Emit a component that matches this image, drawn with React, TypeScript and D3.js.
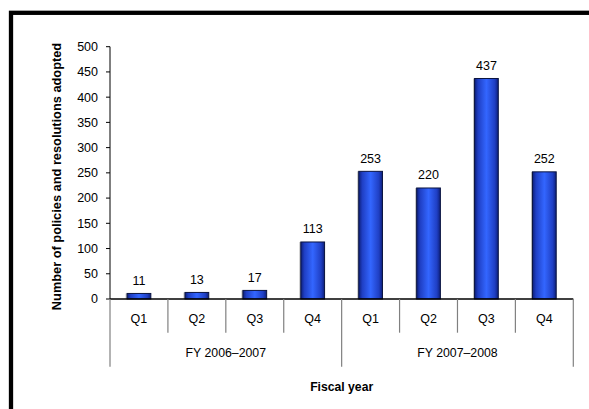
import React from "react";
import * as d3 from "d3";

const quarters = ["Q1", "Q2", "Q3", "Q4", "Q1", "Q2", "Q3", "Q4"];
const values = [11, 13, 17, 113, 253, 220, 437, 252];
const fiscalYears = ["FY 2006–2007", "FY 2007–2008"];
const yTicks = [0, 50, 100, 150, 200, 250, 300, 350, 400, 450, 500];

const W = 589;
const H = 409;
const FONT = "Arial, 'Liberation Sans', sans-serif";

export default function App() {
  const left = 110;
  const right = 573.3;
  const top = 46.7;
  const bottom = 299;

  const y = d3.scaleLinear().domain([0, 500]).range([bottom, top]);
  const x = d3
    .scaleBand<number>()
    .domain(values.map((_, i) => i))
    .range([left, right])
    .paddingInner(0)
    .paddingOuter(0);
  const bw = x.bandwidth();
  const barW = bw * 0.41;
  const groupW = bw * 4;

  return (
    <svg
      width={W}
      height={H}
      style={{ position: "absolute", left: 0, top: 0, background: "#fff" }}
      fontFamily={FONT}
    >
      <defs>
        <linearGradient id="barGrad" x1="0" x2="1" y1="0" y2="0">
          <stop offset="0" stopColor="#0d1f7a" />
          <stop offset="0.15" stopColor="#1f3fc4" />
          <stop offset="0.5" stopColor="#3366ff" />
          <stop offset="0.85" stopColor="#1f3fc4" />
          <stop offset="1" stopColor="#0d1f7a" />
        </linearGradient>
      </defs>
      <rect x={0} y={0} width={W} height={H} fill="#fff" />
      {/* frame */}
      <rect x={11} y={12.8} width={620} height={440} fill="none" stroke="#000" strokeWidth={4.3} />

      {/* y axis */}
      <line x1={left} x2={left} y1={top} y2={bottom} stroke="#000" strokeWidth={1} />
      {yTicks.map((t) => (
        <g key={t}>
          <line x1={left - 4} x2={left} y1={y(t)} y2={y(t)} stroke="#000" strokeWidth={1} />
          <text x={left - 12} y={y(t)} dy="0.35em" textAnchor="end" fontSize={12.5} fill="#000">
            {t}
          </text>
        </g>
      ))}

      {/* bars */}
      {values.map((v, i) => {
        const cx = (x(i) as number) + bw / 2;
        return (
          <g key={i}>
            <rect x={cx - barW / 2 - 1.5} y={y(v)} width={2} height={bottom - y(v)} fill="#999" opacity={0.6} />
            <rect
              x={cx - barW / 2}
              y={y(v)}
              width={barW}
              height={bottom - y(v)}
              fill="url(#barGrad)"
              stroke="#0a1440"
              strokeWidth={1}
            />
            <text x={cx} y={y(v) - 13} dy="0.35em" textAnchor="middle" fontSize={12.5} fill="#000">
              {v}
            </text>
          </g>
        );
      })}

      {/* x axis line */}
      <line x1={left} x2={right} y1={bottom} y2={bottom} stroke="#000" strokeWidth={1.5} />

      {/* category dividers */}
      {values.map((_, i) => {
        const xx = x(i) as number;
        return i % 4 === 0 ? null : (
          <line key={i} x1={xx} x2={xx} y1={bottom} y2={332.7} stroke="#808080" strokeWidth={1.2} />
        );
      })}
      {[0, 1, 2].map((g) => {
        const xx = left + g * groupW;
        return <line key={g} x1={xx} x2={xx} y1={bottom} y2={366.7} stroke="#808080" strokeWidth={1.2} />;
      })}

      {/* quarter labels */}
      {quarters.map((q, i) => (
        <text
          key={i}
          x={(x(i) as number) + bw / 2}
          y={319}
          dy="0.35em"
          textAnchor="middle"
          fontSize={12.5}
          fill="#000"
        >
          {q}
        </text>
      ))}
      {fiscalYears.map((f, g) => (
        <text
          key={f}
          x={left + g * groupW + groupW / 2}
          y={353}
          dy="0.35em"
          textAnchor="middle"
          fontSize={12.3}
          fill="#000"
        >
          {f}
        </text>
      ))}

      {/* axis titles */}
      <text
        x={(left + right) / 2}
        y={386.7}
        dy="0.35em"
        textAnchor="middle"
        fontSize={12.2}
        fontWeight="bold"
        fill="#000"
      >
        Fiscal year
      </text>
      <text
        transform={`translate(57,176.5) rotate(-90)`}
        dy="0.35em"
        textAnchor="middle"
        fontSize={12.8}
        fontWeight="bold"
        fill="#000"
      >
        Number of policies and resolutions adopted
      </text>
    </svg>
  );
}
